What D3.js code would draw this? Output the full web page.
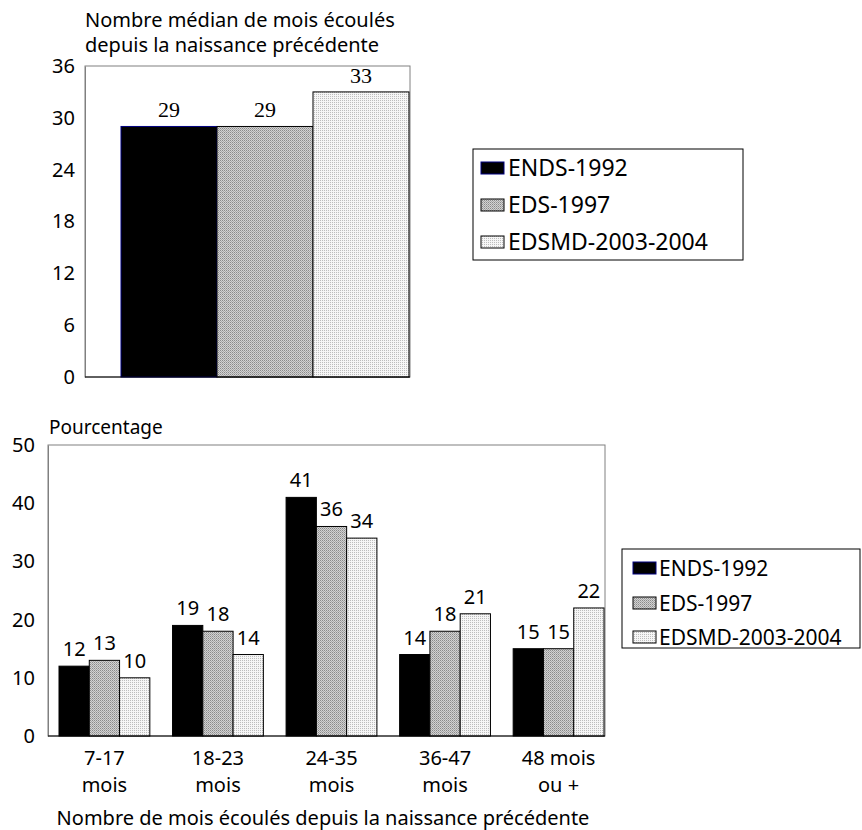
<!DOCTYPE html>
<html><head><meta charset="utf-8">
<script src="https://cdn.jsdelivr.net/npm/d3@7"></script>
<style>
body{margin:0;background:#fff;}
svg{display:block;}
text{font-family:"Noto Sans",sans-serif;fill:#000;}
</style></head>
<body>
<script>
// ---- data ----
const series = ["ENDS-1992", "EDS-1997", "EDSMD-2003-2004"];
const medianValues = [29, 29, 33];
const medianTicks = [0, 6, 12, 18, 24, 30, 36];
const categories = [["7-17","mois"],["18-23","mois"],["24-35","mois"],["36-47","mois"],["48 mois","ou +"]];
const ends1992 = [12, 19, 41, 14, 15];
const eds1997 = [13, 18, 36, 18, 15];
const edsmd2003 = [10, 14, 34, 21, 22];
const pctTicks = [0, 10, 20, 30, 40, 50];
const topTitle = ["Nombre médian de mois écoulés", "depuis la naissance précédente"];
const bottomYTitle = "Pourcentage";
const bottomXTitle = "Nombre de mois écoulés depuis la naissance précédente";

const W = 862, H = 830;
const svg = d3.select("body").append("svg").attr("width", W).attr("height", H);

// patterns
const defs = svg.append("defs");
const pg = defs.append("pattern").attr("id","pGray").attr("width",2).attr("height",2).attr("patternUnits","userSpaceOnUse");
pg.append("rect").attr("width",2).attr("height",2).attr("fill","#d2d2d2");
pg.append("rect").attr("x",0).attr("y",0).attr("width",1).attr("height",1).attr("fill","#8a8a8a");
pg.append("rect").attr("x",1).attr("y",1).attr("width",1).attr("height",1).attr("fill","#a8a8a8");
const pl = defs.append("pattern").attr("id","pLight").attr("width",2).attr("height",2).attr("patternUnits","userSpaceOnUse");
pl.append("rect").attr("width",2).attr("height",2).attr("fill","#f6f6f6");
pl.append("rect").attr("x",0).attr("y",0).attr("width",1).attr("height",1).attr("fill","#bdbdbd");

const fills = ["#000", "url(#pGray)", "url(#pLight)"];
const strokes = ["#000", "#000", "#000"];

// ================= TOP CHART =================
const t = {left:85, right:410, top:66, bottom:377};
const yT = d3.scaleLinear().domain([0,36]).range([t.bottom, t.top]);
const xT = d3.scaleBand().domain(series).range([121, 409]).padding(0);

svg.append("rect").attr("x",t.left).attr("y",t.top).attr("width",t.right-t.left).attr("height",t.bottom-t.top)
  .attr("fill","none").attr("stroke","#808080").attr("stroke-width",1);

const gYT = svg.append("g").attr("transform",`translate(${t.left},0)`)
  .call(d3.axisLeft(yT).tickValues(medianTicks).tickSize(0).tickPadding(10));
gYT.select(".domain").attr("stroke","#808080");
gYT.selectAll("text").attr("font-size",20).attr("font-family","Noto Sans");

svg.selectAll(".tbar").data(medianValues).join("rect")
  .attr("x",(d,i)=>xT(series[i])).attr("width",xT.bandwidth())
  .attr("y",d=>yT(d)).attr("height",d=>yT(0)-yT(d))
  .attr("fill",(d,i)=>fills[i]).attr("stroke",(d,i)=>i===0?"#000080":"#000").attr("stroke-width",1);

svg.append("line").attr("x1",t.left).attr("x2",t.right).attr("y1",t.bottom).attr("y2",t.bottom).attr("stroke","#000");

svg.selectAll(".tlab").data(medianValues).join("text")
  .attr("x",(d,i)=>xT(series[i])+xT.bandwidth()/2).attr("y",d=>yT(d)-9)
  .attr("text-anchor","middle").attr("font-size",22).style("font-family","'Liberation Serif',serif").text(d=>d);

svg.selectAll(".ttitle").data(topTitle).join("text")
  .attr("x",85).attr("y",(d,i)=>27+i*25).attr("font-size",20).text(d=>d);

// legends
function legend(x0,y0,w,h,rowY,swX,txtX,fs){
  svg.append("rect").attr("x",x0).attr("y",y0).attr("width",w).attr("height",h).attr("fill","#fff").attr("stroke","#000");
  series.forEach((s,i)=>{
    svg.append("rect").attr("x",swX).attr("y",rowY[i]-6).attr("width",23).attr("height",12)
      .attr("fill",fills[i]).attr("stroke",i===0?"#000080":"#000");
    svg.append("text").attr("x",txtX).attr("y",rowY[i]+8).attr("font-size",fs).text(s);
  });
}
legend(473,149,270,111,[168,205,242],481,508,23);

// ================= BOTTOM CHART =================
const b = {left:48, right:605, top:445, bottom:736};
const yB = d3.scaleLinear().domain([0,50]).range([b.bottom,b.top]);
const catKeys = categories.map(c=>c.join(" "));
const x0 = d3.scaleBand().domain(catKeys).range([59,604]).paddingInner(0.2).paddingOuter(0);
const x1 = d3.scaleBand().domain(series).range([0,x0.bandwidth()]).padding(0);

svg.append("rect").attr("x",b.left).attr("y",b.top).attr("width",b.right-b.left).attr("height",b.bottom-b.top)
  .attr("fill","none").attr("stroke","#808080").attr("stroke-width",1);

const gYB = svg.append("g").attr("transform",`translate(${b.left},0)`)
  .call(d3.axisLeft(yB).tickValues(pctTicks).tickSize(0).tickPadding(13));
gYB.select(".domain").attr("stroke","#808080");
gYB.selectAll("text").attr("font-size",20).attr("font-family","Noto Sans");

const allSeries = [ends1992, eds1997, edsmd2003];
const flat = [];
categories.forEach((c,ci)=>series.forEach((s,si)=>flat.push({cat:catKeys[ci], s, si, v:allSeries[si][ci]})));

svg.selectAll(".bbar").data(flat).join("rect")
  .attr("x",d=>x0(d.cat)+x1(d.s)).attr("width",x1.bandwidth())
  .attr("y",d=>yB(d.v)).attr("height",d=>yB(0)-yB(d.v))
  .attr("fill",d=>fills[d.si]).attr("stroke",d=>strokes[d.si]).attr("stroke-width",1);

svg.append("line").attr("x1",b.left).attr("x2",b.right).attr("y1",b.bottom).attr("y2",b.bottom).attr("stroke","#000");

svg.selectAll(".blab").data(flat).join("text")
  .attr("x",d=>x0(d.cat)+x1(d.s)+x1.bandwidth()/2).attr("y",d=>yB(d.v)-10)
  .attr("text-anchor","middle").attr("font-size",20).text(d=>d.v);

// category labels
const catG = svg.append("g");
categories.forEach((c,ci)=>{
  const cx = x0(catKeys[ci]) + x0.bandwidth()/2;
  c.forEach((line,li)=>{
    catG.append("text").attr("x",cx).attr("y",765+li*27).attr("text-anchor","middle").attr("font-size",20).text(line);
  });
});

svg.append("text").attr("x",49).attr("y",434).attr("font-size",19).text(bottomYTitle);
svg.append("text").attr("x",323).attr("y",825).attr("text-anchor","middle").attr("font-size",20).text(bottomXTitle);

legend(622,549,238,99,[568,603,637],633,659,21);
</script>
</body></html>
